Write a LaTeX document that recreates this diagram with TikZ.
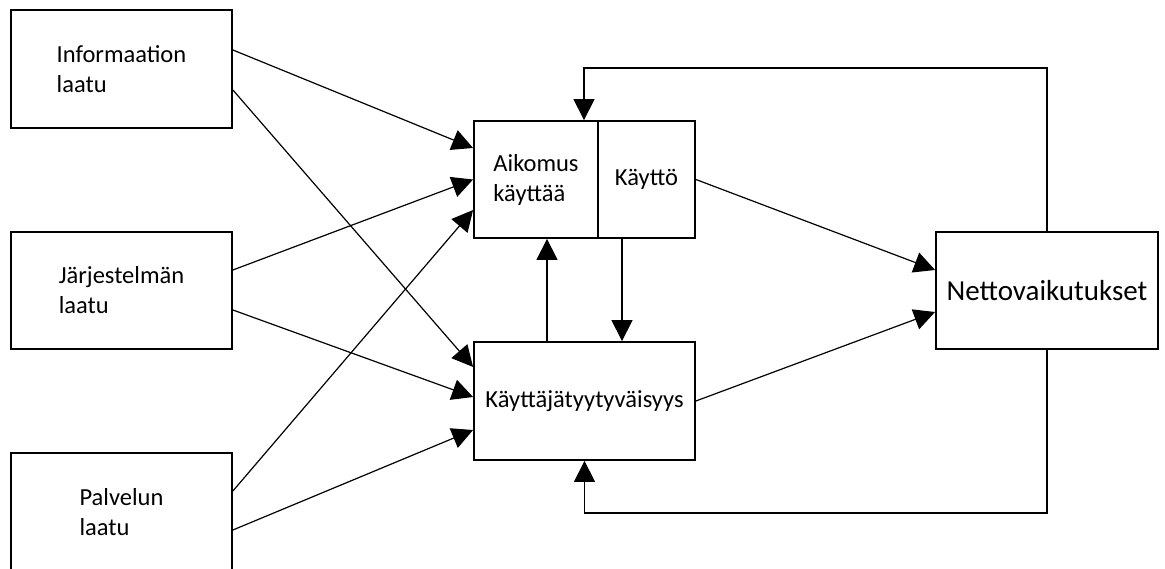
\documentclass[tikz,border=0pt]{standalone}
\usepackage{fontspec}
\setmainfont{Carlito}
\usetikzlibrary{arrows.meta}
\begin{document}
\begin{tikzpicture}[x=1pt,y=1pt,
  box/.style={draw=black, line width=1.8pt, rectangle, inner sep=0pt,
    align=left, font=\fontsize{24.5}{30}\selectfont},
  link/.style={draw=black, line width=1.2pt,
    -{Triangle[length=21pt,width=21pt]}},
  plain/.style={draw=black, line width=1.2pt}]
\useasboundingbox (0,0) rectangle (1165,568);
\clip (0,0) rectangle (1165,568);

% input factors
\node[box, minimum width=221pt, minimum height=118pt] (inf) at (121.5,499) {Informaation\\laatu};
\node[box, minimum width=221pt, minimum height=117pt] (jar) at (121.5,277.5) {Järjestelmän\\laatu};
\node[box, minimum width=221pt, minimum height=118pt] (pal) at (121.5,56) {Palvelun\\laatu};

% use and satisfaction
\node[box, minimum width=124pt, minimum height=117pt] (aik) at (536,388.5) {Aikomus\\käyttää};
\node[box, minimum width=97pt, minimum height=117pt] (kay) at (646.5,388.5) {Käyttö};
\node[box, minimum width=221pt, minimum height=118pt] (sat) at (584.5,167) {Käyttäjätyytyväisyys};

% outcome
\node[box, minimum width=222pt, minimum height=117pt, font=\fontsize{29}{35}\selectfont] (net) at (1047,277.5) {Nettovaikutukset};

% quality dimensions -> intention / satisfaction
\draw[link] ([yshift=19]inf.east) -- ([yshift=31.5]aik.west);
\draw[link] ([yshift=-21]inf.east) -- ([yshift=34]sat.west);
\draw[link] ([yshift=20.5]jar.east) -- (aik.west);
\draw[link] ([yshift=-19.5]jar.east) -- ([yshift=4]sat.west);
\draw[link] ([yshift=21]pal.east) -- ([yshift=-30.5]aik.west);
\draw[link] ([yshift=-18]pal.east) -- ([yshift=-29]sat.west);

% use / satisfaction -> net benefits
\draw[link] (kay.east) -- ([yshift=20.5]net.west);
\draw[link] (sat.east) -- ([yshift=-21.5]net.west);

% between intention, use and satisfaction
\draw[link] ([xshift=-37.5]sat.north) -- ([xshift=11]aik.south);
\draw[link] ([xshift=-24.5]kay.south) -- ([xshift=37.5]sat.north);

% feedback loops from net benefits
\draw[link] (net.north) -- ++(0,163) -| ([xshift=48]aik.north);
\draw[link] (net.south) -- ++(0,-163) -| (sat.south);
\end{tikzpicture}
\end{document}
